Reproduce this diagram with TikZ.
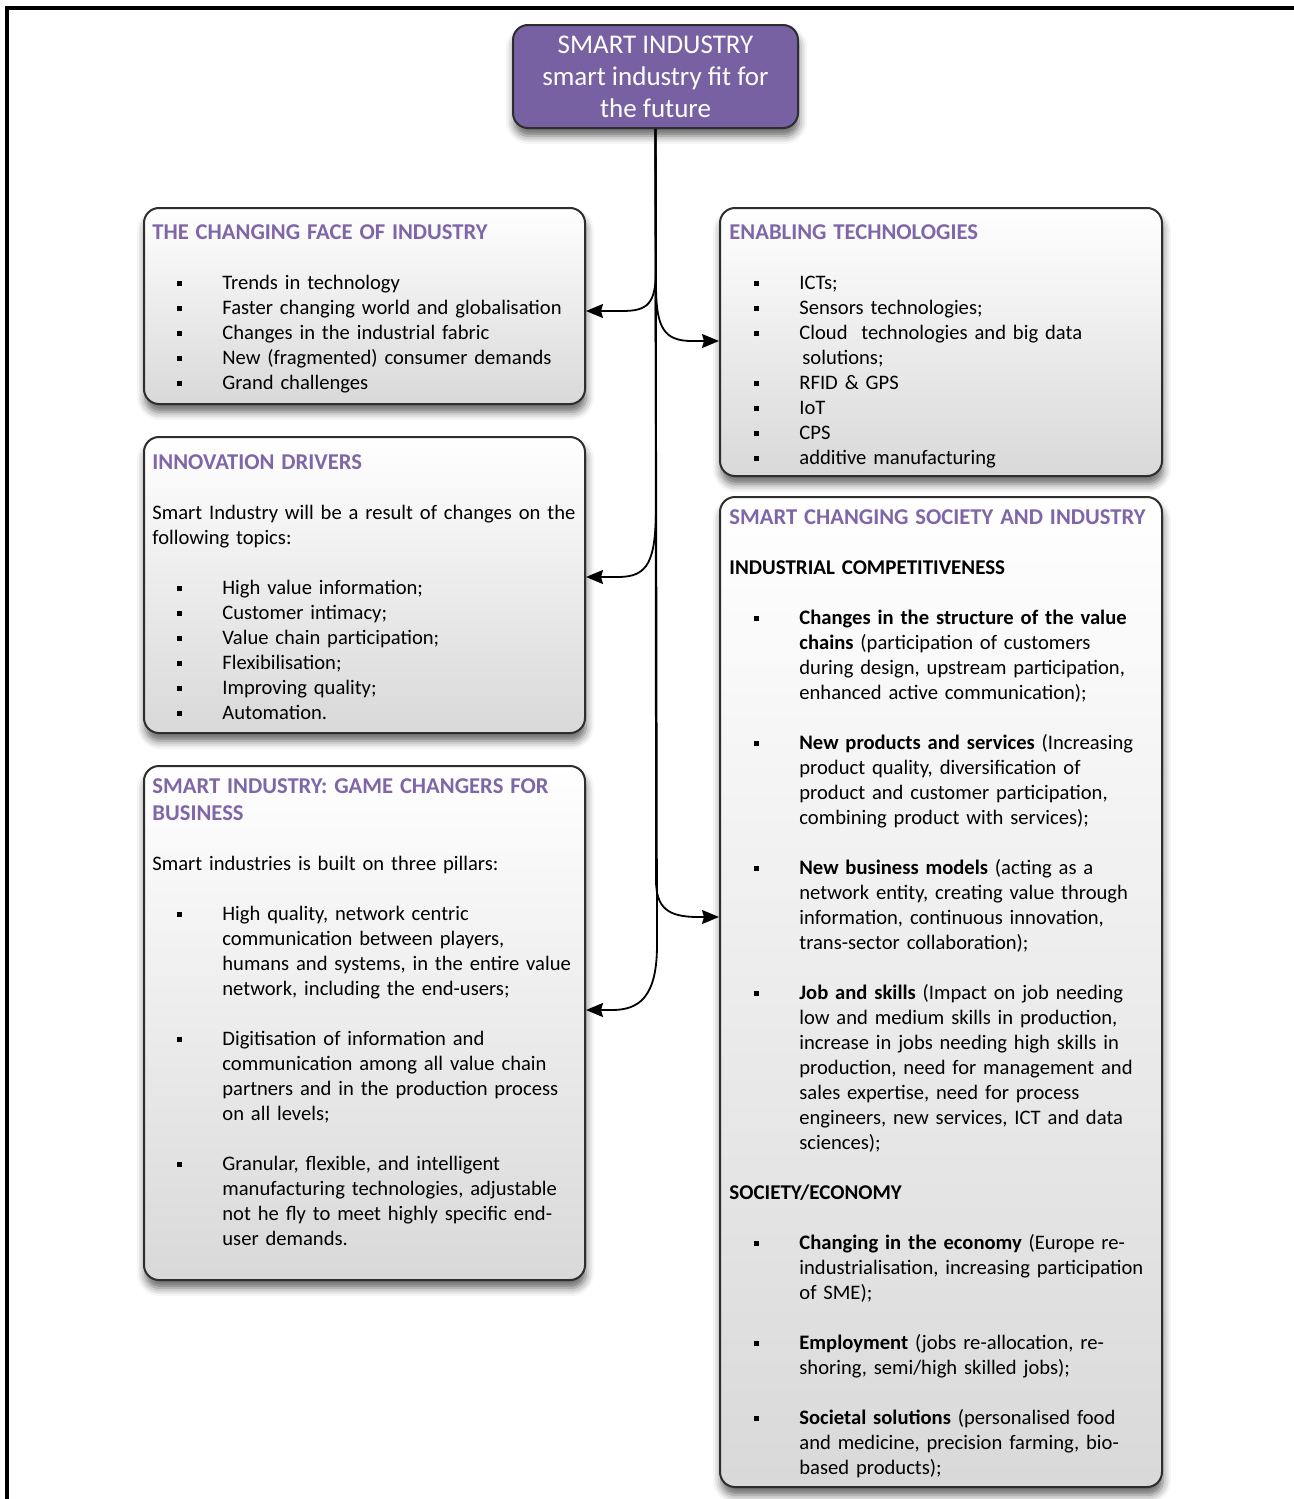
\documentclass[tikz,border=0pt]{standalone}
\usepackage{fontspec}
\setmainfont{Carlito}
\usetikzlibrary{shadows.blur,arrows.meta}

\definecolor{titlepurple}{HTML}{7F66A8}
\definecolor{headfill}{HTML}{7761A2}
\definecolor{edgegray}{HTML}{2E2E2E}

% small square bullet and list helpers
\newcommand\sqbul{\rule[1.5pt]{2.5pt}{2.5pt}}
\newcommand\bitem{\par\hangindent=35pt\hangafter=1\noindent\makebox[35pt][l]{\hspace{12.5pt}\sqbul}}
\newcommand\gap{\par\vspace{12.5pt}}
\newcommand\head[1]{\par\noindent{\fontsize{11.3pt}{13.5pt}\selectfont\bfseries\color{titlepurple}#1\par}}
\newcommand\subhead[1]{\par\noindent{\fontsize{10.5pt}{12.5pt}\selectfont\bfseries #1}}

\tikzset{
  panel/.style={draw=edgegray, line width=1pt, rounded corners=7.5pt,
    top color=white, bottom color=gray!30,
    blur shadow={shadow xshift=0.5pt, shadow yshift=-4pt, shadow blur radius=4pt, shadow opacity=60},
    inner sep=0pt},
  headbox/.style={draw=edgegray, line width=1pt, rounded corners=7.5pt, fill=headfill,
    blur shadow={shadow xshift=0.5pt, shadow yshift=-4pt, shadow blur radius=4pt, shadow opacity=60},
    text=white, align=center, inner sep=0pt,
    font=\fontsize{13.5pt}{16pt}\selectfont},
  body/.style={inner sep=0pt, align=left, anchor=base west,
    font=\fontsize{10.3pt}{12.5pt}\selectfont},
  conn/.style={draw=black, line width=0.9pt,
    -{Stealth[length=8.5pt,width=7pt,inset=1pt]}},
}

\begin{document}
\begin{tikzpicture}[x=0.5pt, y=-0.5pt]
\useasboundingbox (0,0) rectangle (1294,1499);

% outer frame (top and left edges)
\draw[line width=2pt] (1294,7.5) -- (7,7.5) -- (7,1499);

% central heading
\node[headbox, minimum width=142.5pt, minimum height=51.5pt] (top) at (655.5,76.5)
  {SMART INDUSTRY\\smart industry fit for\\the future};

% panels
\node[panel, minimum width=220.5pt, minimum height=98pt]  (b1) at (364.5,306) {};
\node[panel, minimum width=220.5pt, minimum height=148pt] (b2) at (364.5,585) {};
\node[panel, minimum width=220.5pt, minimum height=257pt] (b3) at (364.5,1023) {};
\node[panel, minimum width=221pt,   minimum height=134pt] (b4) at (941,342) {};
\node[panel, minimum width=221pt,   minimum height=495pt] (b5) at (941,992) {};

% panel texts
\node[body, text width=225pt] (t1) at (152,212) {%
\head{THE CHANGING FACE OF INDUSTRY}\gap
\bitem Trends in technology
\bitem Faster changing world and globalisation
\bitem Changes in the industrial fabric
\bitem New (fragmented) consumer demands
\bitem Grand challenges\par};

\node[body, text width=225pt] (t2) at (152,442) {%
\head{INNOVATION DRIVERS}\gap
\noindent Smart Industry will be a result of changes on the\newline following topics:\gap
\bitem High value information;
\bitem Customer intimacy;
\bitem Value chain participation;
\bitem Flexibilisation;
\bitem Improving quality;
\bitem Automation.\par};

\node[body, text width=225pt] (t3) at (152,766) {%
\head{SMART INDUSTRY: GAME CHANGERS FOR\newline BUSINESS}\gap
\noindent Smart industries is built on three pillars:\gap
\bitem High quality, network centric\newline communication between players,\newline humans and systems, in the entire value\newline network, including the end-users;\gap
\bitem Digitisation of information and\newline communication among all value chain\newline partners and in the production process\newline on all levels;\gap
\bitem Granular, flexible, and intelligent\newline manufacturing technologies, adjustable\newline not he fly to meet highly specific end-\newline user demands.\par};

\node[body, text width=225pt] (t4) at (729,212) {%
\head{ENABLING TECHNOLOGIES}\gap
\bitem ICTs;
\bitem Sensors technologies;
\bitem Cloud\ \ technologies and big data\newline\hspace*{1.5pt}solutions;
\bitem RFID \& GPS
\bitem IoT
\bitem CPS
\bitem additive manufacturing\par};

\node[body, text width=225pt] (t5) at (729,497) {%
\head{SMART CHANGING SOCIETY AND INDUSTRY}\gap
\subhead{INDUSTRIAL COMPETITIVENESS}\gap
\bitem \textbf{Changes in the structure of the value\newline chains} (participation of customers\newline during design, upstream participation,\newline enhanced active communication);\gap
\bitem \textbf{New products and services} (Increasing\newline product quality, diversification of\newline product and customer participation,\newline combining product with services);\gap
\bitem \textbf{New business models} (acting as a\newline network entity, creating value through\newline information, continuous innovation,\newline trans-sector collaboration);\gap
\bitem \textbf{Job and skills} (Impact on job needing\newline low and medium skills in production,\newline increase in jobs needing high skills in\newline production, need for management and\newline sales expertise, need for process\newline engineers, new services, ICT and data\newline sciences);\gap
\subhead{SOCIETY/ECONOMY}\gap
\bitem \textbf{Changing in the economy} (Europe re-\newline industrialisation, increasing participation\newline of SME);\gap
\bitem \textbf{Employment} (jobs re-allocation, re-\newline shoring, semi/high skilled jobs);\gap
\bitem \textbf{Societal solutions} (personalised food\newline and medicine, precision farming, bio-\newline based products);\par};

% connectors from the heading to the panels
\draw[conn] (top.south) -- (656,268) .. controls (656,304) and (648,311) .. (622,311) -- ([yshift=-2.5pt]b1.east);
\draw[conn] (top.south) -- (656,285) .. controls (656,328) and (664,341) .. (692,341) -- ([yshift=0.5pt]b4.west);
\draw[conn] (top.south) -- (656,505) .. controls (656,562) and (648,577) .. (618,577) -- ([yshift=4pt]b2.east);
\draw[conn] (top.south) -- (656,880) .. controls (656,908) and (668,917) .. (698,917) -- ([yshift=37.5pt]b5.west);
\draw[conn] (top.south) -- (657,945) .. controls (657,996) and (640,1010) .. (612,1010) -- ([yshift=6.5pt]b3.east);
\end{tikzpicture}
\end{document}
